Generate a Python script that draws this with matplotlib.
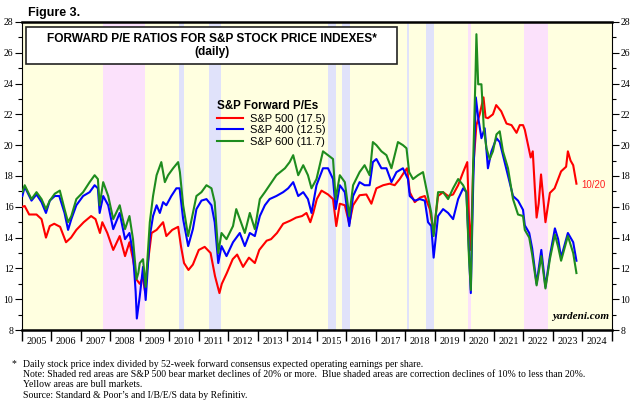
import matplotlib
matplotlib.use('Agg')
import matplotlib.pyplot as plt
from matplotlib.patches import Rectangle
from matplotlib.ticker import MultipleLocator, FixedLocator, NullFormatter

# S&P 500 forward P/E (red)
sp500_t = [2005.02, 2005.1, 2005.25, 2005.5, 2005.67, 2005.82, 2005.95, 2006.1, 2006.3, 2006.5,
           2006.67, 2006.85, 2007.1, 2007.35, 2007.5, 2007.65, 2007.73, 2007.9, 2008.1, 2008.32,
           2008.5, 2008.65, 2008.77, 2008.88, 2009.0, 2009.1, 2009.18, 2009.25, 2009.4, 2009.57,
           2009.79, 2009.9, 2010.1, 2010.3, 2010.4, 2010.5, 2010.65, 2010.8, 2011.0, 2011.2,
           2011.4, 2011.55, 2011.7, 2011.78, 2011.95, 2012.15, 2012.3, 2012.5, 2012.7, 2012.9,
           2013.05, 2013.3, 2013.45, 2013.65, 2013.86, 2014.1, 2014.3, 2014.5, 2014.65, 2014.78,
           2014.88, 2015.0, 2015.16, 2015.38, 2015.55, 2015.66, 2015.78, 2015.95, 2016.1, 2016.23,
           2016.45, 2016.68, 2016.85, 2017.02, 2017.25, 2017.47, 2017.64, 2017.81, 2017.98, 2018.06,
           2018.15, 2018.32, 2018.5, 2018.66, 2018.83, 2018.96, 2019.11, 2019.28, 2019.45, 2019.62,
           2019.79, 2019.96, 2020.1, 2020.16, 2020.22, 2020.3, 2020.41, 2020.52, 2020.65, 2020.72,
           2020.8, 2020.97, 2021.08, 2021.25, 2021.43, 2021.6, 2021.77, 2021.88, 2021.99, 2022.05,
           2022.15, 2022.25, 2022.32, 2022.39, 2022.45, 2022.52, 2022.6, 2022.68, 2022.75, 2022.9,
           2023.06, 2023.18, 2023.28, 2023.45, 2023.51, 2023.6, 2023.69, 2023.8]
sp500_pe = [16.0, 16.05, 15.5, 15.5, 15.2, 14.0, 14.75, 14.9, 14.7, 13.7,
            14.0, 14.5, 15.0, 15.4, 15.2, 14.3, 15.0, 14.3, 13.2, 14.1,
            12.8, 13.7, 12.6, 11.3, 11.0, 11.4, 10.5, 12.0, 14.3, 14.5,
            15.0, 14.1, 14.5, 14.7, 13.4, 12.35, 11.9, 12.25, 13.2, 13.4,
            13.0, 11.5, 10.4, 11.0, 11.7, 12.6, 12.9, 12.1, 12.7, 12.35,
            13.2, 13.8, 13.9, 14.3, 14.9, 15.1, 15.3, 15.4, 15.6, 15.0,
            15.6, 16.5, 17.05, 16.8, 16.5, 14.75, 16.2, 16.1, 14.9, 16.1,
            16.75, 16.8, 16.2, 17.2, 17.4, 17.5, 17.4, 17.8, 18.3, 18.5,
            16.95, 16.3, 16.6, 16.7, 15.85, 14.3, 16.7, 16.95, 16.7, 16.8,
            17.4, 18.25, 18.9, 15.2, 13.2, 18.5, 21.3, 22.0, 23.1, 21.8,
            21.75, 22.0, 22.6, 22.2, 21.4, 21.3, 20.8, 21.3, 21.3, 21.0,
            20.1, 19.2, 19.6, 17.2, 15.3, 16.2, 18.1, 16.5, 15.0, 16.9,
            17.2, 17.8, 18.3, 18.6, 19.6, 19.0, 18.7, 17.5]

# S&P 400 forward P/E (blue)
sp400_t = [2005.02, 2005.1, 2005.33, 2005.5, 2005.67, 2005.82, 2005.95, 2006.12, 2006.27, 2006.45,
           2006.57, 2006.68, 2006.85, 2007.08, 2007.3, 2007.47, 2007.58, 2007.64, 2007.76, 2007.93,
           2008.1, 2008.32, 2008.5, 2008.65, 2008.77, 2008.86, 2008.9, 2009.0, 2009.11, 2009.2,
           2009.34, 2009.45, 2009.57, 2009.68, 2009.79, 2009.9, 2010.07, 2010.24, 2010.35, 2010.47,
           2010.64, 2010.8, 2010.92, 2011.09, 2011.26, 2011.43, 2011.54, 2011.66, 2011.77, 2011.94,
           2012.16, 2012.39, 2012.56, 2012.73, 2012.9, 2013.07, 2013.24, 2013.4, 2013.63, 2013.86,
           2014.03, 2014.2, 2014.37, 2014.54, 2014.7, 2014.82, 2014.99, 2015.21, 2015.38, 2015.55,
           2015.64, 2015.78, 2015.95, 2016.1, 2016.23, 2016.45, 2016.62, 2016.79, 2016.9, 2017.02,
           2017.19, 2017.36, 2017.53, 2017.7, 2017.92, 2018.09, 2018.15, 2018.32, 2018.49, 2018.66,
           2018.77, 2018.88, 2018.96, 2019.11, 2019.28, 2019.45, 2019.62, 2019.79, 2019.96, 2020.07,
           2020.16, 2020.22, 2020.3, 2020.39, 2020.47, 2020.58, 2020.69, 2020.8, 2020.92, 2021.09,
           2021.2, 2021.31, 2021.48, 2021.65, 2021.82, 2021.99, 2022.05, 2022.2, 2022.3, 2022.45,
           2022.61, 2022.75, 2022.9, 2023.07, 2023.18, 2023.28, 2023.51, 2023.69, 2023.8]
sp400_pe = [16.7, 17.3, 16.4, 16.8, 16.3, 15.6, 16.4, 16.7, 16.7, 15.6,
            14.5, 15.2, 16.1, 16.7, 16.95, 17.4, 17.2, 15.6, 16.7, 16.1,
            14.55, 15.6, 13.9, 14.3, 13.0, 10.5, 8.75, 10.2, 12.1, 9.95,
            14.1, 15.4, 16.1, 15.6, 16.3, 16.1, 16.7, 17.2, 17.2, 15.2,
            13.45, 14.55, 15.85, 16.4, 16.5, 16.1, 15.0, 12.35, 13.45, 12.8,
            13.7, 14.3, 13.45, 14.3, 14.1, 15.4, 16.1, 16.5, 16.7, 16.95,
            17.2, 17.6, 16.7, 16.95, 16.5, 15.6, 17.4, 18.5, 18.5, 17.8,
            15.85, 17.4, 16.95, 14.75, 16.7, 17.6, 17.4, 17.4, 18.9, 19.1,
            18.5, 18.5, 17.6, 18.25, 18.5, 17.8, 16.7, 16.4, 16.5, 16.4,
            15.0, 14.75, 12.7, 15.4, 15.85, 15.6, 15.2, 16.5, 17.2, 16.95,
            13.0, 10.4, 17.4, 23.1, 21.8, 20.45, 21.1, 18.5, 19.6, 20.45,
            20.2, 19.35, 18.05, 16.7, 16.4, 15.8, 14.8, 14.3, 13.3, 11.0,
            13.2, 10.8, 12.8, 14.6, 13.9, 12.7, 14.3, 13.7, 12.5]

# S&P 600 forward P/E (green)
sp600_t = [2005.02, 2005.1, 2005.33, 2005.5, 2005.67, 2005.82, 2005.95, 2006.12, 2006.29, 2006.45,
           2006.57, 2006.68, 2006.85, 2007.08, 2007.3, 2007.47, 2007.58, 2007.64, 2007.76, 2007.93,
           2008.1, 2008.32, 2008.5, 2008.65, 2008.77, 2008.89, 2008.95, 2009.0, 2009.11, 2009.2,
           2009.34, 2009.45, 2009.57, 2009.73, 2009.85, 2009.96, 2010.13, 2010.3, 2010.36, 2010.47,
           2010.64, 2010.8, 2010.92, 2011.09, 2011.26, 2011.43, 2011.54, 2011.66, 2011.77, 2011.94,
           2012.16, 2012.27, 2012.39, 2012.56, 2012.73, 2012.9, 2013.07, 2013.24, 2013.4, 2013.63,
           2013.92, 2014.08, 2014.2, 2014.37, 2014.54, 2014.7, 2014.82, 2014.99, 2015.21, 2015.38,
           2015.55, 2015.64, 2015.78, 2015.95, 2016.1, 2016.23, 2016.45, 2016.62, 2016.79, 2016.9,
           2017.02, 2017.19, 2017.36, 2017.53, 2017.75, 2017.92, 2018.04, 2018.13, 2018.26, 2018.43,
           2018.6, 2018.71, 2018.88, 2018.96, 2019.11, 2019.28, 2019.45, 2019.62, 2019.79, 2019.96,
           2020.07, 2020.16, 2020.22, 2020.3, 2020.38, 2020.41, 2020.47, 2020.58, 2020.66, 2020.75,
           2020.86, 2020.97, 2021.09, 2021.2, 2021.31, 2021.48, 2021.65, 2021.82, 2021.99, 2022.05,
           2022.2, 2022.3, 2022.45, 2022.61, 2022.75, 2022.9, 2023.07, 2023.18, 2023.28, 2023.51,
           2023.69, 2023.8]
sp600_pe = [16.95, 17.4, 16.5, 16.95, 16.5, 15.85, 16.4, 16.85, 17.05, 15.85,
            15.0, 15.4, 16.5, 16.95, 17.6, 18.05, 17.8, 16.1, 17.6, 16.7,
            15.2, 16.1, 14.55, 15.4, 13.9, 11.3, 11.7, 12.35, 12.6, 10.8,
            15.0, 16.7, 18.05, 18.9, 17.6, 18.05, 18.5, 18.9, 18.25, 16.1,
            14.1, 15.6, 16.7, 16.95, 17.4, 17.2, 16.3, 13.0, 14.3, 13.9,
            14.75, 15.85, 15.2, 14.3, 15.6, 14.55, 16.5, 16.95, 17.4, 18.05,
            18.5, 18.9, 19.35, 18.05, 18.7, 18.05, 17.2, 17.8, 19.6, 19.35,
            19.1, 16.5, 18.05, 17.6, 15.4, 17.4, 18.25, 18.7, 18.05, 20.2,
            20.0, 19.6, 19.35, 18.5, 20.2, 20.0, 19.8, 18.25, 17.8, 18.05,
            18.25, 17.2, 15.6, 14.1, 16.95, 16.95, 16.5, 17.2, 17.8, 17.4,
            16.95, 12.6, 10.6, 18.9, 24.6, 27.2, 23.95, 23.95, 21.1, 19.8,
            19.1, 19.6, 20.7, 20.9, 19.6, 18.5, 16.5, 15.5, 15.4, 14.5,
            14.0, 12.9, 10.9, 12.8, 10.7, 12.6, 14.2, 13.4, 12.5, 14.1,
            13.0, 11.7]

# shaded periods
bear_periods = [(2007.77, 2009.19), (2020.12, 2020.22), (2022.02, 2022.83)]
correction_periods = [(2010.32, 2010.51), (2011.33, 2011.76), (2015.38, 2015.64),
                      (2015.84, 2016.11), (2018.06, 2018.11), (2018.70, 2018.98)]

years = list(range(2005, 2025))

serif = 'Liberation Serif'
sans = 'Liberation Sans'

fig = plt.figure(figsize=(6.4, 4.05), dpi=100)
ax = fig.add_axes([0.034, 0.185, 0.922, 0.761])

ax.set_facecolor('#FFFFE0')
for a, b in bear_periods:
    ax.axvspan(a, b, color='#FBE1FB', lw=0, zorder=0)
for a, b in correction_periods:
    ax.axvspan(a, b, color='#E0E2FA', lw=0, zorder=0)

ax.plot(sp500_t, sp500_pe, color='#FF0000', lw=1.5, label='S&P 500 (17.5)', zorder=3)
ax.plot(sp400_t, sp400_pe, color='#0000FF', lw=1.5, label='S&P 400 (12.5)', zorder=4)
ax.plot(sp600_t, sp600_pe, color='#1E8C1E', lw=1.5, label='S&P 600 (11.7)', zorder=5)

ax.set_xlim(2005, 2025)
ax.set_ylim(8, 28)

# y axis both sides
ax.yaxis.set_major_locator(MultipleLocator(2))
ax.yaxis.set_minor_locator(MultipleLocator(1))
ax.tick_params(axis='y', which='both', direction='out', left=True, right=True,
               labelleft=True, labelright=True, labelsize=7, pad=1)
ax.tick_params(axis='y', which='major', length=5, width=0.8)
ax.tick_params(axis='y', which='minor', length=3, width=0.8)
for lab in ax.get_yticklabels():
    lab.set_fontfamily(serif)

# x axis: ticks at year boundaries, labels centered in each year
ax.xaxis.set_major_locator(FixedLocator(years + [2025]))
ax.xaxis.set_major_formatter(NullFormatter())
ax.xaxis.set_minor_locator(FixedLocator([y + 0.5 for y in years]))
ax.set_xticklabels([str(y) for y in years], minor=True, fontfamily=serif, fontsize=7.4)
ax.tick_params(axis='x', which='major', direction='out', length=8, width=1)
ax.tick_params(axis='x', which='minor', length=0, pad=5)

for s in ['top', 'bottom']:
    ax.spines[s].set_linewidth(1.8)
for s in ['left', 'right']:
    ax.spines[s].set_linewidth(0.8)

# title box
ax.add_patch(Rectangle((0.007, 0.864), 0.629, 0.118, transform=ax.transAxes,
                       facecolor='white', edgecolor='#222222', lw=1.2, zorder=10, clip_on=False))
ax.text(0.322, 0.945, 'FORWARD P/E RATIOS FOR S&P STOCK PRICE INDEXES*', transform=ax.transAxes,
        ha='center', va='center', fontsize=8.6, fontweight='bold', fontfamily=sans, zorder=11)
ax.text(0.322, 0.902, '(daily)', transform=ax.transAxes, ha='center', va='center',
        fontsize=8.6, fontweight='bold', fontfamily=sans, zorder=11)

leg = ax.legend(loc='upper left', bbox_to_anchor=(0.322, 0.765), frameon=False,
                title='S&P Forward P/Es', alignment='left',
                handlelength=2.3, handletextpad=0.6, labelspacing=0.15, borderpad=0,
                prop={'family': sans, 'size': 8})
leg.get_title().set_fontweight('bold')
leg.get_title().set_fontfamily(sans)
leg.get_title().set_fontsize(8.4)
leg.set_zorder(12)

ax.text(2023.95, 17.4, '10/20', color='#FF2020', fontsize=7, fontfamily=sans,
        ha='left', va='center')
ax.text(0.995, 0.03, 'yardeni.com', transform=ax.transAxes, ha='right', va='bottom',
        fontsize=8, fontstyle='italic', fontweight='bold', fontfamily=serif, zorder=12)

fig.text(0.044, 0.968, 'Figure 3.', fontsize=9, fontweight='bold', fontfamily=sans,
         ha='left', va='center')

notes = ['Daily stock price index divided by 52-week forward consensus expected operating earnings per share.',
         'Note: Shaded red areas are S&P 500 bear market declines of 20% or more.  Blue shaded areas are correction declines of 10% to less than 20%.',
         'Yellow areas are bull markets.',
         'Source: Standard & Poor\u2019s and I/B/E/S data by Refinitiv.']
fig.text(0.018, 1 - 364 / 405, '*', fontsize=7, fontfamily=serif, ha='left', va='center')
for i, line in enumerate(notes):
    fig.text(0.036, 1 - (364 + i * 10.3) / 405, line, fontsize=7, fontfamily=serif,
             ha='left', va='center')

fig.savefig('out.png', dpi=100)
